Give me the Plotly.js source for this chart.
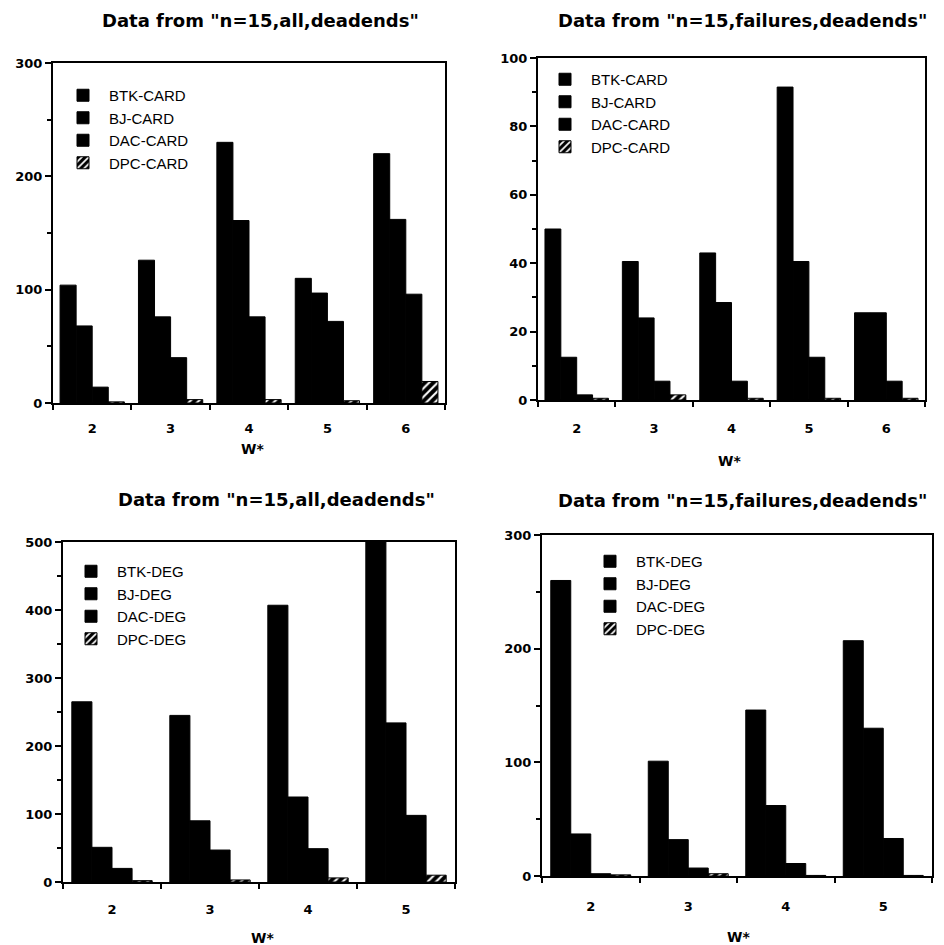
<!DOCTYPE html>
<html>
<head>
<meta charset="utf-8">
<script src="https://cdn.plot.ly/plotly-3.0.1.min.js"></script>
<style>html,body{margin:0;padding:0;background:#fff;}#chart{width:944px;height:945px;}</style>
</head>
<body>
<div id="chart"></div>
<script>
// ---- categories (W*) ----
const wTop = [2, 3, 4, 5, 6];
const wBottom = [2, 3, 4, 5];

// ---- panel 1: Data from "n=15,all,deadends" (CARD) ----
const cardAllBTK = [104, 126, 230, 110, 220];
const cardAllBJ  = [68, 76, 161, 97, 162];
const cardAllDAC = [14, 40, 76, 72, 96];
const cardAllDPC = [1, 3, 3, 2, 19];

// ---- panel 2: Data from "n=15,failures,deadends" (CARD) ----
const cardFailBTK = [50, 40.5, 43, 91.5, 25.5];
const cardFailBJ  = [12.5, 24, 28.5, 40.5, 25.5];
const cardFailDAC = [1.5, 5.5, 5.5, 12.5, 5.5];
const cardFailDPC = [0.5, 1.5, 0.5, 0.5, 0.5];

// ---- panel 3: Data from "n=15,all,deadends" (DEG) ----
const degAllBTK = [265, 245, 407, 520];
const degAllBJ  = [51, 90, 125, 234];
const degAllDAC = [20, 47, 49, 98];
const degAllDPC = [2, 3, 6, 10];

// ---- panel 4: Data from "n=15,failures,deadends" (DEG) ----
const degFailBTK = [260, 101, 146, 207];
const degFailBJ  = [37, 32, 62, 130];
const degFailDAC = [2, 7, 11, 33];
const degFailDPC = [1, 2, 0.5, 0.5];

// ---- labels ----
const cardNames = ["BTK-CARD", "BJ-CARD", "DAC-CARD", "DPC-CARD"];
const degNames  = ["BTK-DEG", "BJ-DEG", "DAC-DEG", "DPC-DEG"];
const titleAll  = 'Data from "n=15,all,deadends"';
const titleFail = 'Data from "n=15,failures,deadends"';
const xTitle = "W*";

const W = 944, H = 945;
const px = v => v / W;
const py = v => 1 - v / H;

function series(x, ys, names, xa, ya, leg) {
  return ys.map((y, i) => {
    const t = {
      type: "bar", x: x, y: y, name: names[i],
      xaxis: xa, yaxis: ya, legend: leg,
      marker: { color: "black", line: { color: "black", width: 1 } },
      hoverinfo: "x+y+name"
    };
    if (i === 3) {
      t.marker.pattern = { shape: "/", fgcolor: "white", bgcolor: "black", size: 6, solidity: 0.35, fillmode: "replace" };
    }
    return t;
  });
}

const data = [].concat(
  series(wTop, [cardAllBTK, cardAllBJ, cardAllDAC, cardAllDPC], cardNames, "x", "y", "legend"),
  series(wTop, [cardFailBTK, cardFailBJ, cardFailDAC, cardFailDPC], cardNames, "x2", "y2", "legend2"),
  series(wBottom, [degAllBTK, degAllBJ, degAllDAC, degAllDPC], degNames, "x3", "y3", "legend3"),
  series(wBottom, [degFailBTK, degFailBJ, degFailDAC, degFailDPC], degNames, "x4", "y4", "legend4")
);

const tickFont = { family: "DejaVu Sans", size: 13, color: "black", weight: "bold" };

function xAxis(cats, domain, anchor, standoff) {
  const minorVals = cats.map(c => c - 0.5).concat([cats[cats.length - 1] + 0.5]);
  return {
    domain: domain, anchor: anchor,
    range: [cats[0] - 0.5, cats[cats.length - 1] + 0.5],
    tickmode: "array", tickvals: cats, ticktext: cats.map(String),
    ticks: "outside", ticklen: standoff, tickcolor: "rgba(0,0,0,0)",
    minor: { tickmode: "array", tickvals: minorVals, ticks: "outside", ticklen: 5, tickwidth: 2, tickcolor: "black" },
    showline: true, linewidth: 2, linecolor: "black", mirror: true,
    showgrid: false, zeroline: false, tickfont: tickFont, fixedrange: true
  };
}
function yAxis(max, dtick, domain, anchor) {
  return {
    domain: domain, anchor: anchor, range: [0, max],
    tickmode: "linear", tick0: 0, dtick: dtick,
    ticks: "outside", ticklen: 6, tickwidth: 2, tickcolor: "black",
    minor: { tickmode: "linear", tick0: dtick / 2, dtick: dtick, ticks: "outside", ticklen: 4, tickwidth: 1.5, tickcolor: "black" },
    showline: true, linewidth: 2, linecolor: "black", mirror: true,
    showgrid: false, zeroline: false, tickfont: tickFont, fixedrange: true
  };
}

function legend(xLeft, yTop) {
  return {
    x: px(xLeft), y: py(yTop), xanchor: "left", yanchor: "top",
    xref: "paper", yref: "paper",
    bgcolor: "rgba(0,0,0,0)", borderwidth: 0,
    font: { family: "Liberation Sans", size: 15, color: "black" },
    itemwidth: 42, traceorder: "normal",
    itemclick: false, itemdoubleclick: false
  };
}

const titleFont = { family: "DejaVu Sans", size: 18, color: "black", weight: "bold" };
const axTitleFont = { family: "DejaVu Sans", size: 14, color: "black", weight: "bold" };
function ann(text, x, y, font) {
  return { text: text, x: px(x), y: py(y), xref: "paper", yref: "paper",
           xanchor: "center", yanchor: "middle", showarrow: false, font: font };
}

const layout = {
  width: W, height: H,
  margin: { l: 0, r: 0, t: 0, b: 0 },
  paper_bgcolor: "white", plot_bgcolor: "white",
  font: { family: "Liberation Sans", color: "black" },
  barmode: "group", bargap: 0.18, bargroupgap: 0,
  xaxis:  xAxis(wTop,    [px(53),  px(445)], "y",  12),
  yaxis:  yAxis(300, 100, [py(403), py(63)],  "x"),
  xaxis2: xAxis(wTop,    [px(538), px(925)], "y2", 15),
  yaxis2: yAxis(100, 20,  [py(400), py(58)],  "x2"),
  xaxis3: xAxis(wBottom, [px(63),  px(455)], "y3", 14),
  yaxis3: yAxis(500, 100, [py(882), py(542)], "x3"),
  xaxis4: xAxis(wBottom, [px(542), px(932)], "y4", 17),
  yaxis4: yAxis(300, 100, [py(876), py(535)], "x4"),
  legend:  legend(57, 79),
  legend2: legend(539, 63),
  legend3: legend(65, 555),
  legend4: legend(584, 545),
  annotations: [
    ann(titleAll, 260, 20, titleFont),
    ann(titleFail, 742, 20, titleFont),
    ann(titleAll, 276, 499, titleFont),
    ann(titleFail, 742, 500, titleFont),
    ann(xTitle, 252, 449, axTitleFont),
    ann(xTitle, 729, 461, axTitleFont),
    ann(xTitle, 262, 938, axTitleFont),
    ann(xTitle, 738, 937, axTitleFont)
  ],
  showlegend: true
};

Plotly.newPlot("chart", data, layout, { displayModeBar: false });
</script>
</body>
</html>
